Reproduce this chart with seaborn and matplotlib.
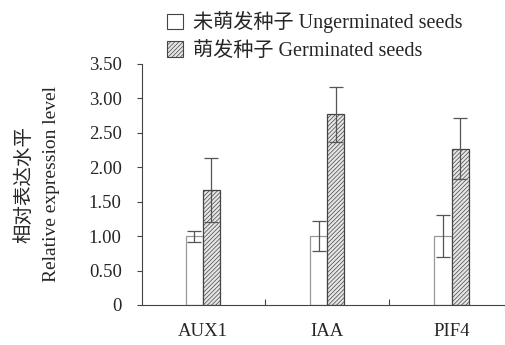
import pandas as pd
import matplotlib.pyplot as plt
import seaborn as sns
from matplotlib.patches import Patch
from matplotlib.ticker import FixedLocator

genes = ['AUX1', 'IAA', 'PIF4']
groups = ['未萌发种子 Ungerminated seeds', '萌发种子 Germinated seeds']
ungerminated = [1.00, 1.00, 1.00]
ungerminated_err = [0.08, 0.22, 0.30]
germinated = [1.67, 2.77, 2.27]
germinated_err = [0.46, 0.40, 0.44]
yticks = [0, 0.5, 1.0, 1.5, 2.0, 2.5, 3.0, 3.5]
ytick_labels = ['0', '0.50', '1.00', '1.50', '2.00', '2.50', '3.00', '3.50']


def main():
    df = pd.DataFrame({
        'gene': genes * 2,
        'group': [groups[0]] * 3 + [groups[1]] * 3,
        'value': ungerminated + germinated,
        'err': ungerminated_err + germinated_err,
    })

    sns.set_style('ticks')
    plt.rcParams['font.family'] = ['Liberation Serif', 'Noto Sans CJK SC']
    plt.rcParams['hatch.linewidth'] = 0.5
    plt.rcParams['hatch.color'] = '#555555'

    fig = plt.figure(figsize=(5.05, 3.45), dpi=100)
    ax = fig.add_axes([0.281, 0.116, 0.719, 0.699])

    sns.barplot(data=df, x='gene', y='value', hue='group', order=genes,
                hue_order=groups, palette=['white', '#e6e6e6'], width=0.275,
                errorbar=None, legend=False, ax=ax, linewidth=0.9)

    errs = {groups[0]: ungerminated_err, groups[1]: germinated_err}
    bar_containers = list(ax.containers)
    for i, container in enumerate(bar_containers):
        g = groups[i]
        for j, bar in enumerate(container):
            if i == 0:
                bar.set_edgecolor('#999999')
                bar.set_facecolor('white')
            else:
                bar.set_edgecolor('#444444')
                bar.set_hatch('////////')
            ax.errorbar(bar.get_x() + bar.get_width() / 2, bar.get_height(),
                        yerr=errs[g][j], fmt='none', ecolor='#555555',
                        elinewidth=0.9, capsize=5, capthick=0.9)

    ax.set_xlim(-0.49, 2.43)
    ax.set_ylim(0, 3.5)
    ax.set_yticks(yticks)
    ax.set_yticklabels(ytick_labels, fontsize=13.5)
    ax.tick_params(axis='y', direction='out', length=3.6, width=0.8,
                   color='#444444', pad=11)
    ax.set_xticks(range(len(genes)))
    ax.set_xticklabels(genes, fontsize=13.5)
    ax.tick_params(axis='x', which='major', length=0, pad=13)
    ax.xaxis.set_minor_locator(FixedLocator([0.5, 1.5]))
    ax.tick_params(axis='x', which='minor', direction='in', length=4, width=0.8, color='#444444')
    ax.set_xlabel('')
    ax.set_ylabel('相对表达水平\nRelative expression level', fontsize=14,
                  linespacing=1.7)
    ax.yaxis.set_label_coords(-0.226, 0.5)
    for s in ['top', 'right']:
        ax.spines[s].set_visible(False)
    for s in ['left', 'bottom']:
        ax.spines[s].set_linewidth(0.8)
        ax.spines[s].set_color('#444444')

    handles = [
        Patch(facecolor='white', edgecolor='#444444', linewidth=0.8),
        Patch(facecolor='#e6e6e6', edgecolor='#444444', hatch='////////', linewidth=0.8),
    ]
    fig.legend(handles, groups, loc='upper left', bbox_to_anchor=(0.295, 1.02),
               frameon=False, fontsize=14.5, handlelength=0.8, handleheight=0.8,
               handletextpad=0.5, labelspacing=0.4)

    fig.savefig('out.png', dpi=100)
    plt.close(fig)


if __name__ == '__main__':
    main()
